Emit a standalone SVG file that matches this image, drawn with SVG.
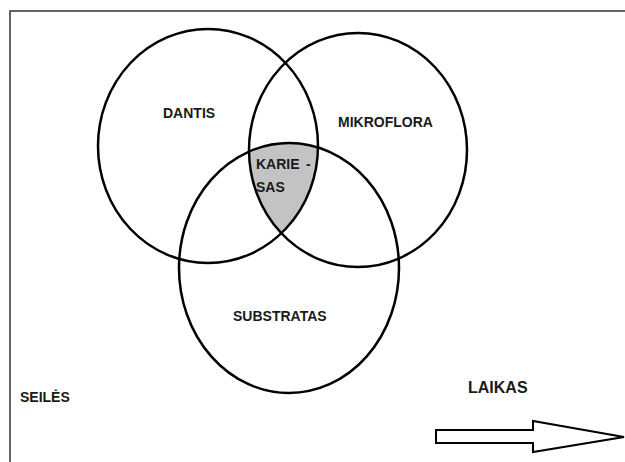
<svg xmlns="http://www.w3.org/2000/svg" width="625" height="462" viewBox="0 0 625 462">
<style>
.c{fill:none;stroke:#000;stroke-width:2.5}
.t{font-family:"Liberation Sans",Arial,sans-serif;font-weight:bold;font-size:14px;fill:#1a1a1a}
.f{fill:none;stroke:#333;stroke-width:1.5}
</style>
<defs>
<clipPath id="cl"><ellipse cx="208" cy="146" rx="110" ry="117"/></clipPath>
<clipPath id="cr"><ellipse cx="358" cy="150" rx="109" ry="117"/></clipPath>
</defs>
<rect width="625" height="462" fill="#fff"/>
<g id="frame"><path class="f" d="M10 462V11H625"/></g>
<g id="karies-fill" clip-path="url(#cl)"><g clip-path="url(#cr)"><ellipse cx="289" cy="268" rx="110" ry="125" fill="#c3c3c3"/></g></g>
<g id="dantis"><ellipse class="c" cx="208" cy="146" rx="110" ry="117"/><text class="t" x="163" y="118">DANTIS</text></g>
<g id="mikroflora"><ellipse class="c" cx="358" cy="150" rx="109" ry="117"/><text class="t" x="338" y="127">MIKROFLORA</text></g>
<g id="substratas"><ellipse class="c" cx="289" cy="268" rx="110" ry="125"/><text class="t" x="233" y="321">SUBSTRATAS</text></g>
<g id="karies"><text class="t" x="256" y="169">KARIE<tspan x="306">-</tspan></text><text class="t" x="256" y="192">SAS</text></g>
<g id="seiles"><text class="t" x="20" y="402">SEILĖS</text></g>
<g id="laikas"><text class="t" x="468" y="393" style="font-size:16px">LAIKAS</text></g>
<g id="connectors"><polygon points="436,430 533,430 533,421 624,437 533,452 533,443 436,443" fill="#fff" stroke="#000" stroke-width="2"/></g>
</svg>
